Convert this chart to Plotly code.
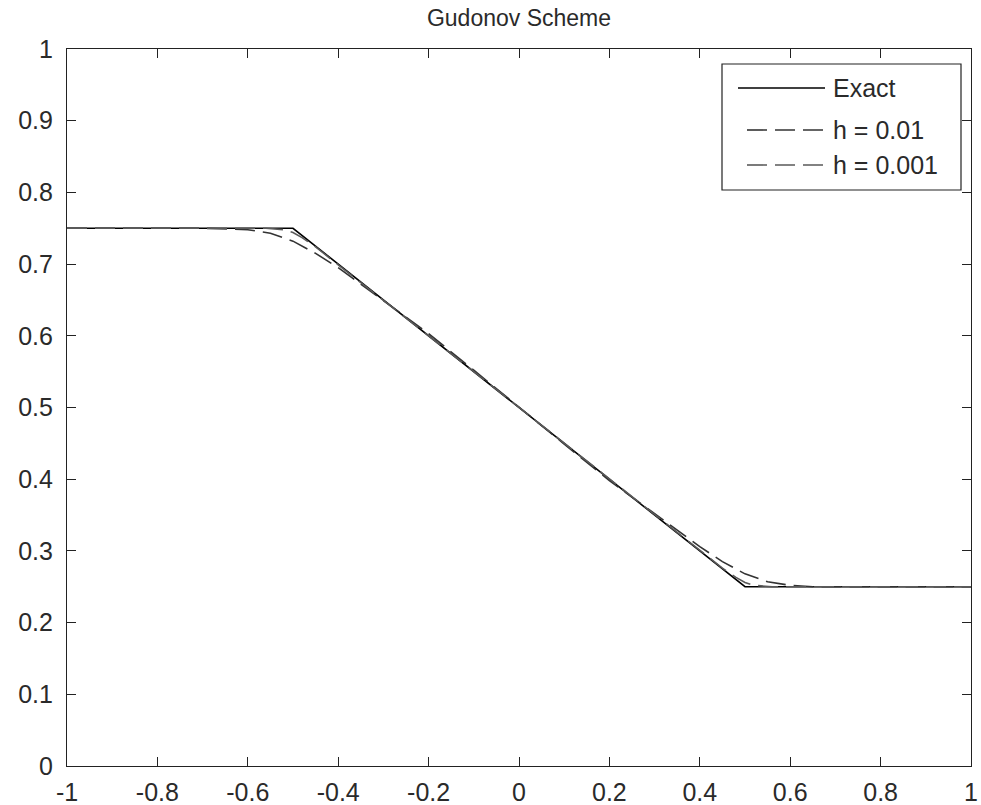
import plotly.graph_objects as go

exact_x = [-1.0, -0.5, 0.5, 1.0]
exact_y = [0.75, 0.75, 0.25, 0.25]

h01_x = [-1.0, -0.7, -0.6, -0.55, -0.5, -0.45, -0.4, -0.35, -0.3, -0.2, -0.1, 0.0,
         0.1, 0.2, 0.3, 0.35, 0.4, 0.45, 0.5, 0.55, 0.6, 0.65, 0.7, 1.0]
h01_y = [0.75, 0.75, 0.748, 0.743, 0.732, 0.715, 0.695, 0.672, 0.649, 0.603, 0.552, 0.5,
         0.449, 0.398, 0.352, 0.328, 0.306, 0.285, 0.268, 0.257, 0.252, 0.25, 0.25, 0.25]

h001_x = [-1.0, -0.56, -0.52, -0.5, -0.48, -0.45, -0.4, -0.3, -0.2, -0.1, 0.0,
          0.1, 0.2, 0.3, 0.4, 0.45, 0.48, 0.5, 0.52, 0.56, 1.0]
h001_y = [0.75, 0.75, 0.748, 0.744, 0.737, 0.724, 0.699, 0.65, 0.6, 0.55, 0.5,
          0.45, 0.4, 0.35, 0.301, 0.276, 0.263, 0.256, 0.252, 0.25, 0.25]

xticks = [-1, -0.8, -0.6, -0.4, -0.2, 0, 0.2, 0.4, 0.6, 0.8, 1]
yticks = [0, 0.1, 0.2, 0.3, 0.4, 0.5, 0.6, 0.7, 0.8, 0.9, 1]

series_names = ["Exact", "h = 0.01", "h = 0.001"]
series_colors = ["black", "#333333", "#5a5a5a"]
series_dash = ["solid", "20px,8px", "20px,8px"]

FONT = "Liberation Sans"
TXT = "#2a2a2a"

L, R, T, B = 67, 10, 49, 39
W, H = 981, 805
pw = W - L - R
ph = H - T - B

fig = go.Figure()
for xs, ys, nm, col, dsh in zip([exact_x, h01_x, h001_x], [exact_y, h01_y, h001_y],
                                series_names, series_colors, series_dash):
    fig.add_trace(go.Scatter(x=xs, y=ys, mode="lines", name=nm, showlegend=False,
                             line=dict(color=col, width=1.6, dash=dsh)))

axis_common = dict(showgrid=False, zeroline=False, showline=True, mirror="ticks",
                   linecolor="#222222", linewidth=1.2, ticks="inside", ticklen=9,
                   tickcolor="#222222", ticklabeloverflow="allow", automargin=False,
                   tickfont=dict(family=FONT, size=25, color=TXT))

# custom legend, positioned in pixels then converted to paper coordinates
def px(x):
    return (x - L) / pw

def py(y):
    return (H - B - y) / ph

lg_left, lg_right, lg_top, lg_bot = px(722), px(961), py(64), py(190)
row_y = [py(88), py(130), py(165)]
line_x0 = [px(738), px(747), px(747)]
line_x1 = px(825)
text_x = px(831)

shapes = [dict(type="rect", xref="paper", yref="paper", x0=lg_left, x1=lg_right,
               y0=lg_bot, y1=lg_top, line=dict(color="#222222", width=1.2),
               fillcolor="white", layer="above")]
annotations = []
for i, nm in enumerate(series_names):
    shapes.append(dict(type="line", xref="paper", yref="paper", x0=line_x0[i], x1=line_x1,
                       y0=row_y[i], y1=row_y[i], layer="above",
                       line=dict(color=series_colors[i], width=1.6, dash=series_dash[i])))
    annotations.append(dict(xref="paper", yref="paper", x=text_x, y=row_y[i], text=nm,
                            showarrow=False, xanchor="left", yanchor="middle",
                            font=dict(family=FONT, size=25, color=TXT)))

fig.update_layout(
    width=W, height=H,
    margin=dict(l=L, r=R, t=T, b=B, autoexpand=False),
    paper_bgcolor="white", plot_bgcolor="white",
    title=dict(text="Gudonov Scheme", x=(L + W - R) / 2 / W, xanchor="center",
               y=1 - 18 / H, yanchor="middle", automargin=False,
               font=dict(family=FONT, size=23, color=TXT)),
    xaxis=dict(range=[-1, 1], tickvals=xticks, ticktext=[f"{v:g}" for v in xticks],
               ticklabelstandoff=4, **axis_common),
    yaxis=dict(range=[0, 1], tickvals=yticks, ticktext=[f"{v:g}" for v in yticks],
               ticklabelstandoff=8, **axis_common),
    shapes=shapes,
    annotations=annotations,
    showlegend=False,
)

fig.write_html("out.html")
